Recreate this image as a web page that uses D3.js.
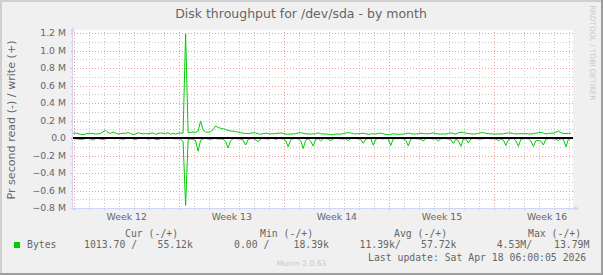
<!DOCTYPE html>
<html>
<head>
<meta charset="utf-8">
<script src="https://cdn.jsdelivr.net/npm/d3@7"></script>
<style>
  html, body { margin: 0; padding: 0; background: #f0f0f0; }
  svg { display: block; }
</style>
</head>
<body>
<div id="chart"></div>
<script>
// Sampled every 4 hours from the first timestamp, values in k (bytes/s)
const sampleStart = Date.UTC(2026, 2, 15, 23, 0);
const sampleHours = 4;

const writeK = [
  57, 55, 50, 42, 40, 45, 52, 54, 50, 46,
  47, 52, 70, 88, 62, 52, 68, 55, 46, 50,
  55, 52, 62, 50, 42, 45, 60, 52, 48, 50,
  47, 55, 57, 42, 52, 57, 55, 52, 60, 45,
  52, 45, 55, 58, 55, 1190, 62, 65, 68, 62,
  80, 195, 90, 70, 65, 72, 95, 138, 120, 112,
  105, 95, 88, 80, 78, 72, 68, 62, 55, 52,
  50, 55, 60, 58, 50, 42, 50, 56, 50, 47,
  48, 50, 55, 57, 52, 45, 44, 46, 45, 50,
  58, 60, 55, 48, 46, 45, 47, 50, 58, 50,
  45, 46, 44, 40, 38, 45, 46, 44, 50, 58,
  60, 58, 50, 46, 50, 52, 54, 50, 40, 48,
  47, 46, 52, 56, 48, 40, 38, 42, 48, 45,
  42, 44, 43, 52, 56, 50, 46, 45, 50, 56,
  50, 48, 48, 52, 58, 50, 46, 45, 46, 44,
  52, 58, 50, 45, 60, 66, 64, 55, 52, 48,
  45, 48, 52, 60, 62, 52, 50, 48, 46, 46,
  45, 46, 48, 55, 57, 56, 50, 46, 48, 50,
  49, 50, 47, 46, 50, 55, 62, 64, 58, 46,
  52, 56, 55, 65, 80, 60, 52, 50, 52, 55
];

const readK = [
  -5, -8, -12, -15, -14, -6, -4, -10, -23, -8,
  -5, -12, -15, -10, -4, -3, -6, -8, -5, -10,
  -14, -8, -5, -4, -10, -16, -8, -4, -3, -6,
  -12, -8, -5, -15, -18, -6, -4, -8, -5, -4,
  -6, -10, -8, -12, -38, -770, -20, -10, -14, -30,
  -150, -25, -8, -6, -10, -15, -8, -5, -12, -10,
  -14, -40, -115, -30, -8, -6, -10, -12, -25, -80,
  -15, -8, -6, -20, -42, -10, -6, -8, -12, -5,
  -4, -15, -6, -8, -10, -30, -100, -20, -8, -6,
  -10, -30, -120, -25, -8, -35, -92, -15, -8, -34,
  -6, -8, -10, -31, -8, -5, -6, -10, -12, -8,
  -31, -8, -5, -6, -10, -15, -60, -12, -8, -6,
  -83, -15, -6, -8, -10, -5, -12, -86, -10, -6,
  -8, -5, -10, -25, -91, -12, -6, -8, -10, -14,
  -34, -8, -5, -6, -12, -8, -34, -10, -6, -8,
  -10, -20, -63, -15, -30, -95, -12, -8, -57, -10,
  -6, -8, -10, -12, -8, -6, -5, -10, -8, -12,
  -31, -10, -25, -86, -20, -8, -6, -30, -95, -15,
  -8, -6, -10, -35, -95, -30, -30, -35, -80, -12,
  -8, -6, -10, -12, -29, -8, -15, -100, -12, -10
];

const yTicks = [-800, -600, -400, -200, 0, 200, 400, 600, 800, 1000, 1200];
const yMinorTicks = [-700, -500, -300, -100, 100, 300, 500, 700, 900, 1100];

const title = 'Disk throughput for /dev/sda - by month';
const yLabel = 'Pr second read (-) / write (+)';
const legendHeaders = ['Cur (-/+)', 'Min (-/+)', 'Avg (-/+)', 'Max (-/+)'];
const legendName = 'Bytes';
const legendValues = ['1013.70 /', '55.12k', '0.00 /', '18.39k', '11.39k/', '57.72k', '4.53M/', '13.79M'];
const lastUpdate = 'Last update: Sat Apr 18 06:00:05 2026';

// layout
const W = 603;
const H = 275;
const plot = { l: 73, r: 573, t: 30, b: 208 };
const headerX = [125, 260, 394, 528];
const valueX = [84, 157.5, 234, 293.5, 359.5, 421, 496.7, 554];

const fontColor = '#666666';
const lineColor = '#00cc00';
const axisColor = '#cfd6f8';

const x = d3.scaleUtc()
  .domain([new Date(Date.UTC(2026, 2, 15, 23, 0)), new Date(Date.UTC(2026, 3, 18, 6, 20))])
  .range([plot.l, plot.r]);

const y = d3.scaleLinear().domain([-800, 1200]).range([plot.b, 33]);

const timeAt = i => new Date(sampleStart + i * sampleHours * 3600 * 1000);
const crisp = v => Math.round(v) + 0.5;

const svg = d3.select('#chart')
  .append('svg')
  .attr('width', W)
  .attr('height', H);

// background + frame
svg.append('rect').attr('width', W).attr('height', H).attr('fill', '#f0f0f0');
svg.append('path').attr('d', `M0,1H${W}M1,0V${H}`).attr('stroke', '#cfcfcf').attr('stroke-width', 2);
svg.append('path').attr('d', `M0,${H - 1}H${W}M${W - 1},0V${H}`).attr('stroke', '#9e9e9e').attr('stroke-width', 2);

// canvas
svg.append('rect')
  .attr('x', plot.l)
  .attr('y', plot.t)
  .attr('width', plot.r - plot.l)
  .attr('height', plot.b - plot.t)
  .attr('fill', '#ffffff');

const grid = svg.append('g').attr('shape-rendering', 'crispEdges');
const [t0, t1] = x.domain();
const mondays = d3.utcMonday.range(t0, t1);
const days = d3.utcDay.range(t0, t1).filter(d => d.getUTCDay() !== 1);

// minor grid
grid.selectAll('line.vmin')
  .data(days)
  .join('line')
  .attr('x1', d => crisp(x(d)))
  .attr('x2', d => crisp(x(d)))
  .attr('y1', plot.b + 2)
  .attr('y2', plot.t)
  .attr('stroke', '#c8c8c8')
  .attr('stroke-dasharray', '1,2');

grid.selectAll('line.hmin')
  .data(yMinorTicks)
  .join('line')
  .attr('x1', plot.l - 2)
  .attr('x2', plot.r + 2)
  .attr('y1', d => crisp(y(d)))
  .attr('y2', d => crisp(y(d)))
  .attr('stroke', '#c8c8c8')
  .attr('stroke-dasharray', '1,2');

// major grid
grid.selectAll('line.vmaj')
  .data(mondays)
  .join('line')
  .attr('x1', d => crisp(x(d)))
  .attr('x2', d => crisp(x(d)))
  .attr('y1', plot.b + 2)
  .attr('y2', plot.t)
  .attr('stroke', '#f09a9a')
  .attr('stroke-dasharray', '1,2');

grid.selectAll('line.hmaj')
  .data(yTicks)
  .join('line')
  .attr('x1', plot.l - 2)
  .attr('x2', plot.r + 2)
  .attr('y1', d => crisp(y(d)))
  .attr('y2', d => crisp(y(d)))
  .attr('stroke', '#f09a9a')
  .attr('stroke-dasharray', '1,2');

// Axes
const yAxis = d3.axisLeft(y)
  .tickValues(yTicks)
  .tickSize(0)
  .tickPadding(7)
  .tickFormat(d => d === 0 ? '0.0' : `${d3.format('.1f')(d / 1000)} M`);

const gy = svg.append('g')
  .attr('transform', `translate(${plot.l}, 0)`)
  .call(yAxis);

const weekMid = mondays.map(d => d3.utcHour.offset(d, -84))
  .concat([d3.utcHour.offset(mondays[mondays.length - 1], 84)])
  .filter(d => d > t0 && d < t1);

const xAxis = d3.axisBottom(x)
  .tickValues(weekMid)
  .tickSize(0)
  .tickPadding(5)
  .tickFormat(d3.utcFormat('Week %V'));

const gx = svg.append('g')
  .attr('transform', `translate(0, ${plot.b})`)
  .call(xAxis);

[gx, gy].forEach(g => {
  g.select('.domain').remove();
  g.selectAll('text')
    .attr('fill', fontColor)
    .style('font-family', 'DejaVu Sans')
    .style('font-size', '9.3px');
});

// axis lines and arrows
svg.append('line')
  .attr('x1', plot.l - 0.5).attr('x2', plot.l - 0.5)
  .attr('y1', plot.b + 2).attr('y2', plot.t)
  .attr('stroke', axisColor);
svg.append('path')
  .attr('d', `M${plot.l - 3},${plot.t + 1.5}L${plot.l + 2},${plot.t + 1.5}L${plot.l - 0.5},${plot.t - 3}Z`)
  .attr('fill', axisColor);
svg.append('line')
  .attr('x1', plot.l - 3).attr('x2', plot.r + 2)
  .attr('y1', plot.b + 0.5).attr('y2', plot.b + 0.5)
  .attr('stroke', axisColor);
svg.append('path')
  .attr('d', `M${plot.r + 1.5},${plot.b - 2}L${plot.r + 1.5},${plot.b + 3}L${plot.r + 6},${plot.b + 0.5}Z`)
  .attr('fill', axisColor);

// Series lines
const line = d3.line()
  .x((d, i) => x(timeAt(i)))
  .y(d => y(d));

svg.append('path')
  .datum(readK)
  .attr('fill', 'none')
  .attr('stroke', lineColor)
  .attr('stroke-width', 1)
  .attr('stroke-linejoin', 'round')
  .attr('d', line);

svg.append('path')
  .datum(writeK)
  .attr('fill', 'none')
  .attr('stroke', lineColor)
  .attr('stroke-width', 1)
  .attr('stroke-linejoin', 'round')
  .attr('d', line);

// zero rule
svg.append('line')
  .attr('x1', plot.l).attr('x2', plot.r)
  .attr('y1', y(0)).attr('y2', y(0))
  .attr('stroke', '#000')
  .attr('stroke-width', 2);

// Texts
svg.append('text')
  .attr('x', 301)
  .attr('y', 18)
  .attr('text-anchor', 'middle')
  .attr('fill', fontColor)
  .style('font-family', 'DejaVu Sans')
  .style('font-size', '12.5px')
  .text(title);

svg.append('text')
  .attr('transform', `translate(15, ${(plot.t + plot.b) / 2 + 1}) rotate(-90)`)
  .attr('text-anchor', 'middle')
  .attr('fill', fontColor)
  .style('font-family', 'DejaVu Sans')
  .style('font-size', '11.1px')
  .text(yLabel);

svg.append('text')
  .attr('transform', 'translate(590, 53) rotate(90)')
  .attr('text-anchor', 'middle')
  .attr('fill', '#c8c8c8')
  .style('font-family', 'DejaVu Sans')
  .style('font-size', '7.4px')
  .text('RRDTOOL / TOBI OETIKER');

svg.append('text')
  .attr('x', 276.7)
  .attr('y', 266)
  .attr('fill', '#c8c8c8')
  .style('font-family', 'DejaVu Sans')
  .style('font-size', '7.6px')
  .text('Munin 2.0.63');

// Legend
const legend = svg.append('g')
  .attr('fill', fontColor)
  .style('font-family', 'DejaVu Sans Mono')
  .style('font-size', '9.8px');

legend.selectAll('text.head')
  .data(legendHeaders)
  .join('text')
  .attr('x', (d, i) => headerX[i])
  .attr('y', 237)
  .text(d => d);

svg.append('rect')
  .attr('x', 14).attr('y', 242)
  .attr('width', 6).attr('height', 6)
  .attr('fill', lineColor);

legend.append('text').attr('x', 27).attr('y', 248).text(legendName);

legend.selectAll('text.val')
  .data(legendValues)
  .join('text')
  .attr('x', (d, i) => valueX[i])
  .attr('y', 248)
  .text(d => d);

legend.append('text').attr('x', 368).attr('y', 261).text(lastUpdate);
</script>
</body>
</html>
